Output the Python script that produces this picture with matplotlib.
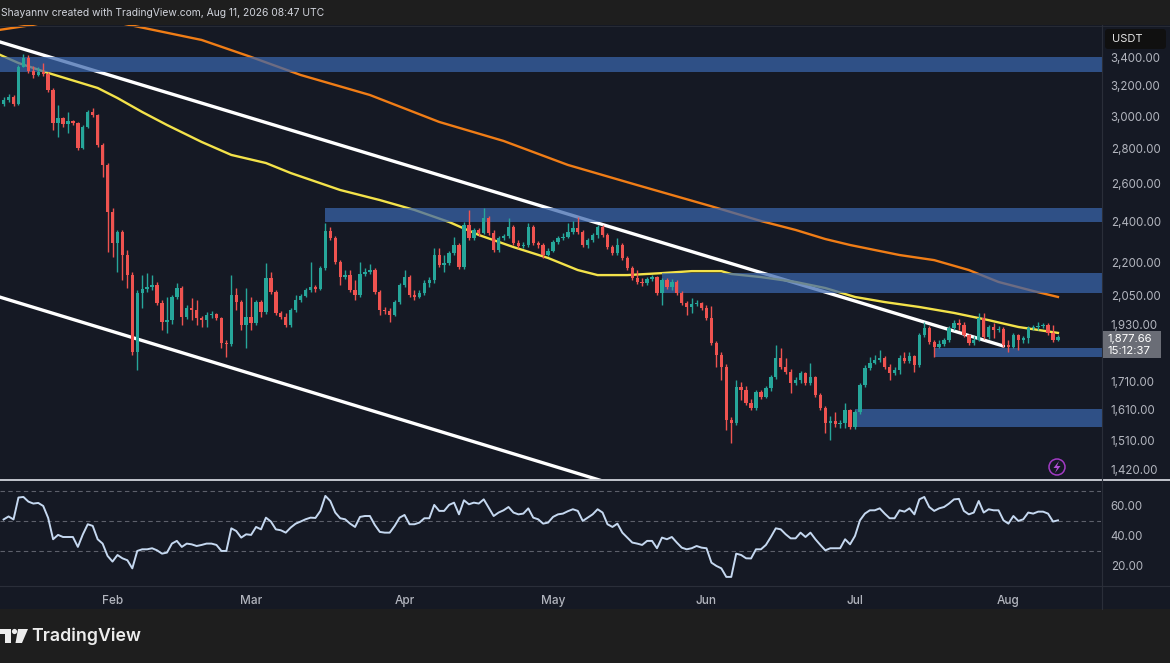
import numpy as np
import matplotlib
matplotlib.use('Agg')
import matplotlib.pyplot as plt
from matplotlib.patches import Rectangle, FancyBboxPatch, Circle, Polygon
from matplotlib.lines import Line2D
from matplotlib.ticker import FixedLocator, NullLocator, FuncFormatter
from matplotlib.transforms import Affine2D

plt.rcParams['font.family'] = ['Inter', 'DejaVu Sans']

# ---------------- data ----------------
START = np.datetime64('2026-01-10')          # first daily candle
first_open = 3078

close = [3104, 3124, 3078, 3329, 3393, 3301, 3273, 3294, 3280, 3170,
         2956, 2988, 2950, 2969, 2956, 2804, 2931, 3026, 3007, 2822,
         2705, 2448, 2292, 2347, 2235, 2142, 1820, 2062, 2080, 2088,
         2097, 2019, 1939, 1947, 2045, 2084, 1960, 1998, 1989, 1956,
         1947, 1968, 1972, 1956, 1855, 1851, 2053, 2023, 1927, 1960,
         1935, 2023, 1981, 2129, 2066, 1977, 1960, 1927, 1989, 2032,
         2049, 2075, 2088, 2080, 2174, 2352, 2317, 2202, 2133, 2142,
         2075, 2053, 2147, 2156, 2165, 2066, 1989, 1985, 1968, 2023,
         2097, 2133, 2053, 2045, 2062, 2106, 2120, 2235, 2188, 2197,
         2244, 2283, 2179, 2382, 2317, 2357, 2342, 2417, 2342, 2259,
         2317, 2327, 2372, 2293, 2278, 2283, 2372, 2293, 2283, 2235,
         2254, 2298, 2317, 2322, 2347, 2367, 2347, 2283, 2307, 2332,
         2372, 2332, 2273, 2244, 2283, 2221, 2174, 2129, 2111, 2106,
         2124, 2133, 2062, 2120, 2088, 2111, 2062, 2019, 2002, 2015,
         2019, 1998, 1956, 1855, 1808, 1763, 1576, 1566, 1690, 1679,
         1633, 1616, 1672, 1654, 1686, 1726, 1797, 1763, 1744, 1704,
         1715, 1741, 1704, 1726, 1661, 1616, 1566, 1572, 1562, 1566,
         1609, 1552, 1603, 1697, 1759, 1778, 1789, 1797, 1763, 1741,
         1752, 1797, 1786, 1805, 1770, 1887, 1915, 1859, 1839, 1851,
         1867, 1915, 1935, 1927, 1887, 1855, 1867, 1956, 1879, 1919,
         1907, 1911, 1847, 1839, 1887, 1867, 1875, 1915, 1919, 1923,
         1927, 1895, 1867, 1877.66]

high = [3124, 3144, 3137, 3343, 3421, 3414, 3336, 3329, 3357, 3294,
        3184, 3071, 2994, 3026, 2975, 2963, 2944, 3039, 3052, 3013,
        2834, 2716, 2469, 2357, 2357, 2259, 2156, 2075, 2142, 2151,
        2142, 2111, 2032, 2045, 2053, 2106, 2093, 2010, 2040, 2032,
        1964, 1981, 1985, 1977, 1960, 1867, 2142, 2084, 2032, 2084,
        2045, 2032, 2032, 2197, 2156, 2075, 1985, 1977, 1998, 2053,
        2058, 2084, 2202, 2097, 2183, 2392, 2372, 2327, 2211, 2165,
        2165, 2120, 2202, 2174, 2193, 2174, 2075, 2002, 1998, 2032,
        2106, 2165, 2142, 2075, 2075, 2120, 2133, 2268, 2268, 2235,
        2254, 2322, 2293, 2397, 2459, 2367, 2367, 2469, 2428, 2357,
        2327, 2337, 2417, 2382, 2307, 2298, 2392, 2382, 2302, 2293,
        2268, 2307, 2327, 2342, 2392, 2402, 2422, 2357, 2317, 2342,
        2382, 2382, 2342, 2283, 2317, 2293, 2230, 2183, 2165, 2129,
        2133, 2142, 2138, 2129, 2129, 2124, 2120, 2071, 2028, 2040,
        2032, 2023, 2010, 2006, 1863, 1820, 1774, 1586, 1715, 1708,
        1693, 1647, 1679, 1679, 1693, 1733, 1847, 1835, 1797, 1755,
        1726, 1748, 1744, 1778, 1730, 1668, 1623, 1589, 1603, 1576,
        1633, 1613, 1609, 1704, 1770, 1801, 1808, 1827, 1805, 1774,
        1763, 1808, 1820, 1820, 1808, 1895, 1939, 1923, 1867, 1867,
        1875, 1923, 1947, 1951, 1939, 1891, 1883, 1977, 1977, 1927,
        1935, 1923, 1919, 1867, 1895, 1891, 1883, 1923, 1927, 1939,
        1935, 1935, 1927, 1887]

low = [3064, 3091, 3064, 3071, 3329, 3287, 3252, 3266, 3266, 3157,
       2913, 2870, 2931, 2894, 2944, 2792, 2798, 2925, 2994, 2810,
       2637, 2249, 2225, 2156, 2120, 2084, 1808, 1752, 1998, 2066,
       2075, 2010, 1907, 1895, 1931, 2036, 1927, 1951, 1947, 1927,
       1919, 1919, 1956, 1947, 1835, 1801, 1843, 1989, 1907, 1835,
       1907, 1927, 1960, 1972, 2058, 1968, 1951, 1919, 1919, 1981,
       2023, 2045, 2066, 2066, 2075, 2165, 2307, 2193, 2097, 2124,
       2066, 2032, 2045, 2138, 2147, 2058, 1968, 1972, 1939, 1964,
       2015, 2088, 2045, 2032, 2040, 2053, 2088, 2106, 2179, 2156,
       2188, 2235, 2170, 2170, 2307, 2307, 2327, 2337, 2332, 2249,
       2249, 2307, 2317, 2283, 2268, 2268, 2273, 2283, 2268, 2221,
       2230, 2249, 2288, 2307, 2317, 2337, 2337, 2273, 2268, 2298,
       2317, 2322, 2264, 2235, 2235, 2211, 2165, 2120, 2102, 2093,
       2097, 2115, 2053, 2010, 2080, 2075, 2053, 2010, 1968, 1977,
       2006, 1989, 1947, 1847, 1763, 1715, 1543, 1501, 1559, 1644,
       1627, 1609, 1609, 1647, 1651, 1675, 1719, 1755, 1737, 1668,
       1697, 1704, 1697, 1697, 1654, 1609, 1533, 1510, 1552, 1549,
       1549, 1546, 1546, 1596, 1690, 1752, 1774, 1782, 1755, 1715,
       1733, 1737, 1778, 1778, 1744, 1763, 1879, 1851, 1801, 1835,
       1843, 1859, 1907, 1907, 1879, 1847, 1847, 1863, 1871, 1871,
       1875, 1899, 1839, 1820, 1835, 1827, 1855, 1855, 1907, 1907,
       1915, 1887, 1859, 1863]

rsi = [51, 53, 51, 65.6, 66, 62.9, 61.6, 62, 60, 52,
       37.8, 40.7, 39.3, 39.3, 39.3, 32.7, 41, 47.8, 46.7, 37.8,
       34.9, 26.7, 22.9, 27.3, 25.1, 23.8, 18.4, 30, 31.1, 31.1,
       31.8, 30.4, 28.2, 28.9, 34.9, 36.7, 32.7, 34.9, 34.4, 33.3,
       34, 34.9, 34.9, 34, 30, 30, 45.1, 43.3, 38.9, 41.1,
       40.7, 46, 44.4, 52.2, 49.6, 44.4, 43.8, 42.2, 45.6, 48.2,
       49.6, 51.1, 52.2, 52, 56.7, 66.7, 63.3, 55.6, 51.8, 51.1,
       48.2, 46, 52.7, 53.3, 53.3, 47.3, 42.7, 42.2, 42.2, 46.7,
       52.2, 54, 47.8, 47.8, 48.9, 51.8, 51.8, 60.7, 56.7, 56.7,
       60.7, 62.2, 54.4, 63.8, 61.1, 62.2, 61.6, 64.4, 58.9, 53.3,
       55.6, 57.1, 59.3, 55.6, 54.4, 54.9, 58.4, 52.2, 51.1, 48.2,
       48.9, 52.7, 54.4, 54.9, 56.5, 57.8, 56.7, 50, 52.2, 54.4,
       57.8, 55.6, 47.8, 46, 48.2, 42.2, 38.9, 35.6, 34.9, 34,
       36.7, 36.7, 31.8, 38.9, 37.8, 39.3, 35.6, 32.2, 31.1, 31.8,
       33.3, 32.2, 31.8, 22.2, 20, 18.4, 12.7, 12.7, 28.2, 27.3,
       25.1, 25, 31.1, 31.1, 34, 39.3, 45.1, 44.4, 41.1, 38.4,
       38.4, 42.2, 39.3, 42.2, 37.8, 34, 30.4, 31.8, 31.8, 31.8,
       37.8, 34.4, 40, 50.4, 54.9, 57.1, 57.1, 58.4, 54.9, 51.8,
       51.8, 57.1, 56.2, 58.4, 54.4, 64.4, 66, 59.3, 56.7, 58.4,
       59.3, 61.6, 64.4, 64.7, 56.7, 54.4, 55.6, 63.3, 55.6, 57.8,
       57.1, 57.1, 50.4, 48.2, 53.3, 50, 51.1, 55.6, 54.9, 56.2,
       56.2, 54.9, 49.6, 50.4]

# moving averages (read at sampled candles)
ma_fast_idx = [-1, 3, 9, 19, 23, 28, 33, 40, 46, 53, 58, 68, 76, 83, 90, 96, 103,
               110, 116, 120, 126, 133, 139, 145, 147, 153, 160, 166, 172, 178,
               185, 192, 199, 205, 213]
ma_fast_val = [3420, 3357, 3287, 3184, 3117, 3026, 2944, 2840, 2763, 2716, 2659,
               2565, 2511, 2459, 2397, 2332, 2273, 2221, 2165, 2142, 2142, 2151,
               2160, 2160, 2147, 2133, 2111, 2084, 2045, 2023, 2002, 1977, 1947,
               1919, 1895]
ma_slow_idx = [-1, 6, 13, 18, 24, 40, 50, 60, 74, 88, 101, 114, 128, 143, 153,
               160, 166, 171, 181, 188, 195, 201, 208, 213]
ma_slow_val = [3600, 3640, 3700, 3700, 3650, 3525, 3400, 3273, 3137, 2963, 2846,
               2705, 2592, 2478, 2402, 2357, 2312, 2283, 2235, 2211, 2165, 2111,
               2071, 2045]

# trendlines (two anchor candles each)
trend_upper_idx = [-1, 202]
trend_upper_val = [3513, 1843]
trend_lower_idx = [-1, 150]
trend_lower_val = [2046, 1262]

# supply / demand zones
zone_start = [-1, 65, 133, 188, 172]
zone_lo = [3295, 2395, 2062, 1799, 1554]
zone_hi = [3402, 2470, 2151, 1836, 1612]

price_ticks = [3400, 3200, 3000, 2800, 2600, 2400, 2200, 2050, 1930,
               1710, 1610, 1510, 1420]
rsi_ticks = [60, 40, 20]
rsi_levels = [70, 50, 30]
month_labels = ['Feb', 'Mar', 'Apr', 'May', 'Jun', 'Jul', 'Aug']
month_dates = ['2026-02-01', '2026-03-01', '2026-04-01', '2026-05-01',
               '2026-06-01', '2026-07-01', '2026-08-01']

header_text = 'Shayannv created with TradingView.com, Aug 11, 2026 08:47 UTC'
timer_text = '15:12:37'

# ---------------- style ----------------
W, H = 1170, 663
BG = '#151924'
HEADER = '#1e1e1e'
GREEN = '#26a69a'
RED = '#ef5350'
ZONE = '#3a66ad'
YELLOW = '#f3e24a'
ORANGE = '#f07d16'
TXT = '#b2b5be'
GRID = '#2a2e39'

XMIN, XMAX = -0.73, 221.7
YMIN, YMAX = 1390.6, 3638.5
RMIN, RMAX = 7.3, 77.3

fig = plt.figure(figsize=(W / 100, H / 100), dpi=100)
fig.patch.set_facecolor(BG)
PX = Affine2D().scale(1 / 100., -1 / 100.).translate(0, H / 100.) + fig.dpi_scale_trans


def fy(py):
    return 1 - py / H


ax = fig.add_axes([0, fy(479), 1101 / W, (479 - 25) / H])
rax = fig.add_axes([0, fy(585), 1101 / W, (585 - 480) / H])

for a in (ax, rax):
    a.set_facecolor(BG)
    for s in a.spines.values():
        s.set_visible(False)
    a.set_xlim(XMIN, XMAX)
    a.tick_params(length=0, colors=TXT, labelsize=8.3)
    a.yaxis.tick_right()

# ---- main price pane ----
ax.set_yscale('log')
ax.set_ylim(YMIN, YMAX)
ax.yaxis.set_major_locator(FixedLocator(price_ticks))
ax.yaxis.set_minor_locator(NullLocator())
ax.yaxis.set_major_formatter(FuncFormatter(lambda v, p: f'{v:,.2f}'))
ax.tick_params(axis='y', pad=7)
ax.set_xticks([])

n = len(close)
idx = np.arange(n)
c = np.array(close, dtype=float)
o = np.array([first_open] + close[:-1], dtype=float)
hi = np.maximum(np.array(high, dtype=float), np.maximum(o, c))
lo = np.minimum(np.array(low, dtype=float), np.minimum(o, c))
cols = np.where(c >= o, GREEN, RED)

# trendlines
ax.plot(trend_upper_idx, trend_upper_val, color='white', lw=2.4, zorder=2,
        solid_capstyle='round')
ax.plot(trend_lower_idx, trend_lower_val, color='white', lw=2.4, zorder=2,
        solid_capstyle='round')
# moving averages
ax.plot(ma_slow_idx, ma_slow_val, color=ORANGE, lw=1.7, zorder=3)
ax.plot(ma_fast_idx, ma_fast_val, color=YELLOW, lw=1.7, zorder=3)
# zones
for x0, zl, zh in zip(zone_start, zone_lo, zone_hi):
    ax.fill_between([x0, XMAX + 2], zl, zh, color=ZONE, alpha=0.72, lw=0, zorder=4)
# candles
ax.vlines(idx, lo, hi, colors=cols, lw=1.0, zorder=5)
bot = np.minimum(o, c)
hgt = np.maximum(np.abs(c - o), bot * 0.0016)
ax.bar(idx, hgt, bottom=bot, width=0.68, color=cols, lw=0, zorder=6)

# ---- RSI pane ----
rax.set_ylim(RMIN, RMAX)
rax.yaxis.set_major_locator(FixedLocator(rsi_ticks))
rax.yaxis.set_major_formatter(FuncFormatter(lambda v, p: f'{v:.2f}'))
rax.tick_params(axis='y', pad=7)
for lv in rsi_levels:
    rax.axhline(lv, color='#5d606b', lw=0.8, dashes=(4, 3), zorder=1)
rax.plot(idx, rsi, color='#c5d8f0', lw=1.4, zorder=3)
mticks = [(np.datetime64(d) - START).astype(int) for d in month_dates]
rax.set_xticks(mticks)
rax.set_xticklabels(month_labels, fontsize=8.5, color=TXT, fontweight='medium')
rax.tick_params(axis='x', pad=7)

# ---------------- figure decorations ----------------
def prect(x, y, w, h, color, z=10, **kw):
    fig.add_artist(Rectangle((x, y), w, h, transform=PX, facecolor=color,
                             edgecolor='none', zorder=z, **kw))


def pline(xs, ys, color, lw, z=11, **kw):
    fig.add_artist(Line2D(xs, ys, transform=PX, color=color, lw=lw, zorder=z, **kw))


# header
prect(0, 0, W, 25, HEADER)
fig.text(1, 13, header_text, transform=PX, color='#d1d4dc', fontsize=7.45,
         va='center', ha='left', zorder=12)
# footer
prect(0, 609, W, H - 609, HEADER)
fig.text(31, 636, 'TradingView', transform=PX, color='#ececec', fontsize=12.8,
         fontweight='semibold', va='center', ha='left', zorder=12)
# TradingView logo mark
fig.add_artist(Polygon([(0, 629), (11, 629), (11, 643), (5, 643), (5, 634), (0, 634)],
                       closed=True, transform=PX, facecolor='#ececec', zorder=12))
fig.add_artist(Circle((14.5, 631.5), 2.6, transform=PX, facecolor='#ececec', zorder=12))
fig.add_artist(Polygon([(18, 629), (28, 629), (22, 643), (15.5, 643)],
                       closed=True, transform=PX, facecolor='#ececec', zorder=12))

# separators
pline([0, W], [479.5, 479.5], '#d0d3da', 1.3)
pline([0, W], [585.5, 585.5], GRID, 0.8)
pline([1101.5, 1101.5], [25, 609], GRID, 0.8)
pline([0, W], [25.5, 25.5], GRID, 0.6)

# USDT box
fig.add_artist(FancyBboxPatch((1105, 29), 61, 20, boxstyle='round,pad=0,rounding_size=3',
                              transform=PX, facecolor='#101010', edgecolor='none', zorder=12))
fig.text(1112, 39, 'USDT', transform=PX, color='#e6e6e6', fontsize=8.0,
         va='center', ha='left', zorder=13)

# current price label
prect(1103, 331, 58, 27, '#6a6d76', z=12)
fig.text(1107, 338.5, f'{close[-1]:,.2f}', transform=PX, color='white', fontsize=8.2,
         va='center', ha='left', zorder=13)
fig.text(1107, 351, timer_text, transform=PX, color='white', fontsize=8.2,
         va='center', ha='left', zorder=13)

# lightning icon
fig.add_artist(Circle((1057, 467), 8, transform=PX, facecolor=BG,
                      edgecolor='#a23bc4', lw=1.1, zorder=12))
fig.add_artist(Polygon([(1059, 461), (1053.5, 468), (1057, 468), (1055, 473),
                        (1060.5, 466), (1057, 466)], closed=True, transform=PX,
                       facecolor='#b04fd4', edgecolor='none', zorder=13))

fig.savefig('out.png', dpi=100, facecolor=BG)
